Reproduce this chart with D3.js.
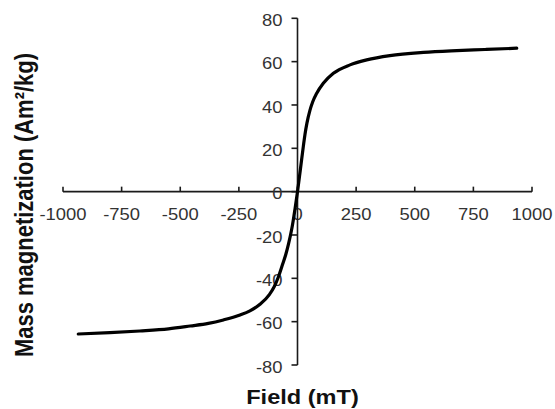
<!DOCTYPE html>
<html>
<head>
<meta charset="utf-8">
<script src="https://cdn.jsdelivr.net/npm/d3@7"></script>
<style>
  html, body { margin: 0; padding: 0; background: #fff; }
  svg { display: block; }
  text { font-family: "Liberation Sans", Arial, sans-serif; }
</style>
</head>
<body>
<svg id="chart" width="555" height="409"></svg>
<script>
// Data
const fieldValues = [-935,-800,-672,-550,-458,-380,-316,-245,-203,-160,-120,-100,-82,-65,-50,-38,-25,-12,0,12,25,32,40,53,65,82,110,153,224,295,394,537,679,800,935];
const magnetization = [-65.7,-65.1,-64.3,-63.3,-62.0,-60.8,-59.2,-56.9,-55.0,-52.0,-47.5,-44.0,-39.5,-34.0,-29.0,-24.0,-17.5,-9.0,0,10.0,21.0,26.5,31.5,37.5,41.5,45.4,50.0,54.6,58.5,60.8,62.8,64.3,65.1,65.6,66.2];
const xTicks = [-1000,-750,-500,-250,0,250,500,750,1000];
const yTicks = [-80,-60,-40,-20,0,20,40,60,80];
const xTitle = "Field (mT)";
const yTitle = "Mass magnetization (Am\u00B2/kg)";

const svg = d3.select("#chart");
const x = d3.scaleLinear().domain([-1000, 1000]).range([63, 532]);
const y = d3.scaleLinear().domain([-80, 80]).range([365, 18.3]);
const sx = 1.15; // horizontal stretch seen in reference
const axisColor = "#1a1a1a";
const labelColor = "#333";

// X axis line at y=0
const xAxisG = svg.append("g");
xAxisG.append("line")
  .attr("x1", x(-1000)).attr("x2", x(1000))
  .attr("y1", y(0)).attr("y2", y(0))
  .attr("stroke", axisColor).attr("stroke-width", 1.6);
xAxisG.selectAll("line.tick").data(xTicks).enter().append("line")
  .attr("class", "tick")
  .attr("x1", d => x(d)).attr("x2", d => x(d))
  .attr("y1", y(0)).attr("y2", y(0) - 5)
  .attr("stroke", axisColor).attr("stroke-width", 1.6);
xAxisG.selectAll("g.lab").data(xTicks).enter().append("g")
  .attr("class", "lab")
  .attr("transform", d => `translate(${x(d)},${y(0) + 28}) scale(${sx},1)`)
  .append("text")
  .attr("text-anchor", "middle")
  .attr("font-size", 16)
  .attr("fill", labelColor)
  .text(d => d);

// Y axis line at x=0
const yAxisG = svg.append("g");
yAxisG.append("line")
  .attr("x1", x(0)).attr("x2", x(0))
  .attr("y1", y(80)).attr("y2", y(-80))
  .attr("stroke", axisColor).attr("stroke-width", 1.6);
yAxisG.selectAll("line.tick").data(yTicks).enter().append("line")
  .attr("class", "tick")
  .attr("x1", x(0) - 6).attr("x2", x(0))
  .attr("y1", d => y(d)).attr("y2", d => y(d))
  .attr("stroke", axisColor).attr("stroke-width", 1.6);
yAxisG.selectAll("g.lab").data(yTicks).enter().append("g")
  .attr("class", "lab")
  .attr("transform", d => `translate(${x(0) - 15},${y(d) + 7.8}) scale(${sx},1)`)
  .append("text")
  .attr("text-anchor", "end")
  .attr("font-size", 16)
  .attr("fill", labelColor)
  .text(d => d);

// Curve
const pts = fieldValues.map((h, i) => [h, magnetization[i]]);
const line = d3.line()
  .x(d => x(d[0]))
  .y(d => y(d[1]))
  .curve(d3.curveMonotoneX);
svg.append("path")
  .datum(pts)
  .attr("d", line)
  .attr("fill", "none")
  .attr("stroke", "#000")
  .attr("stroke-width", 3.2)
  .attr("stroke-linecap", "round");

// Axis titles
svg.append("g")
  .attr("transform", `translate(302.5,404) scale(${sx},1)`)
  .append("text")
  .attr("text-anchor", "middle")
  .attr("font-size", 20.5)
  .attr("font-weight", "bold")
  .attr("fill", "#111")
  .text(xTitle);

svg.append("g")
  .attr("transform", `translate(33,205) scale(${sx},1) rotate(-90)`)
  .append("text")
  .attr("text-anchor", "middle")
  .attr("font-size", 22)
  .attr("font-weight", "bold")
  .attr("fill", "#111")
  .text(yTitle);
</script>
</body>
</html>
